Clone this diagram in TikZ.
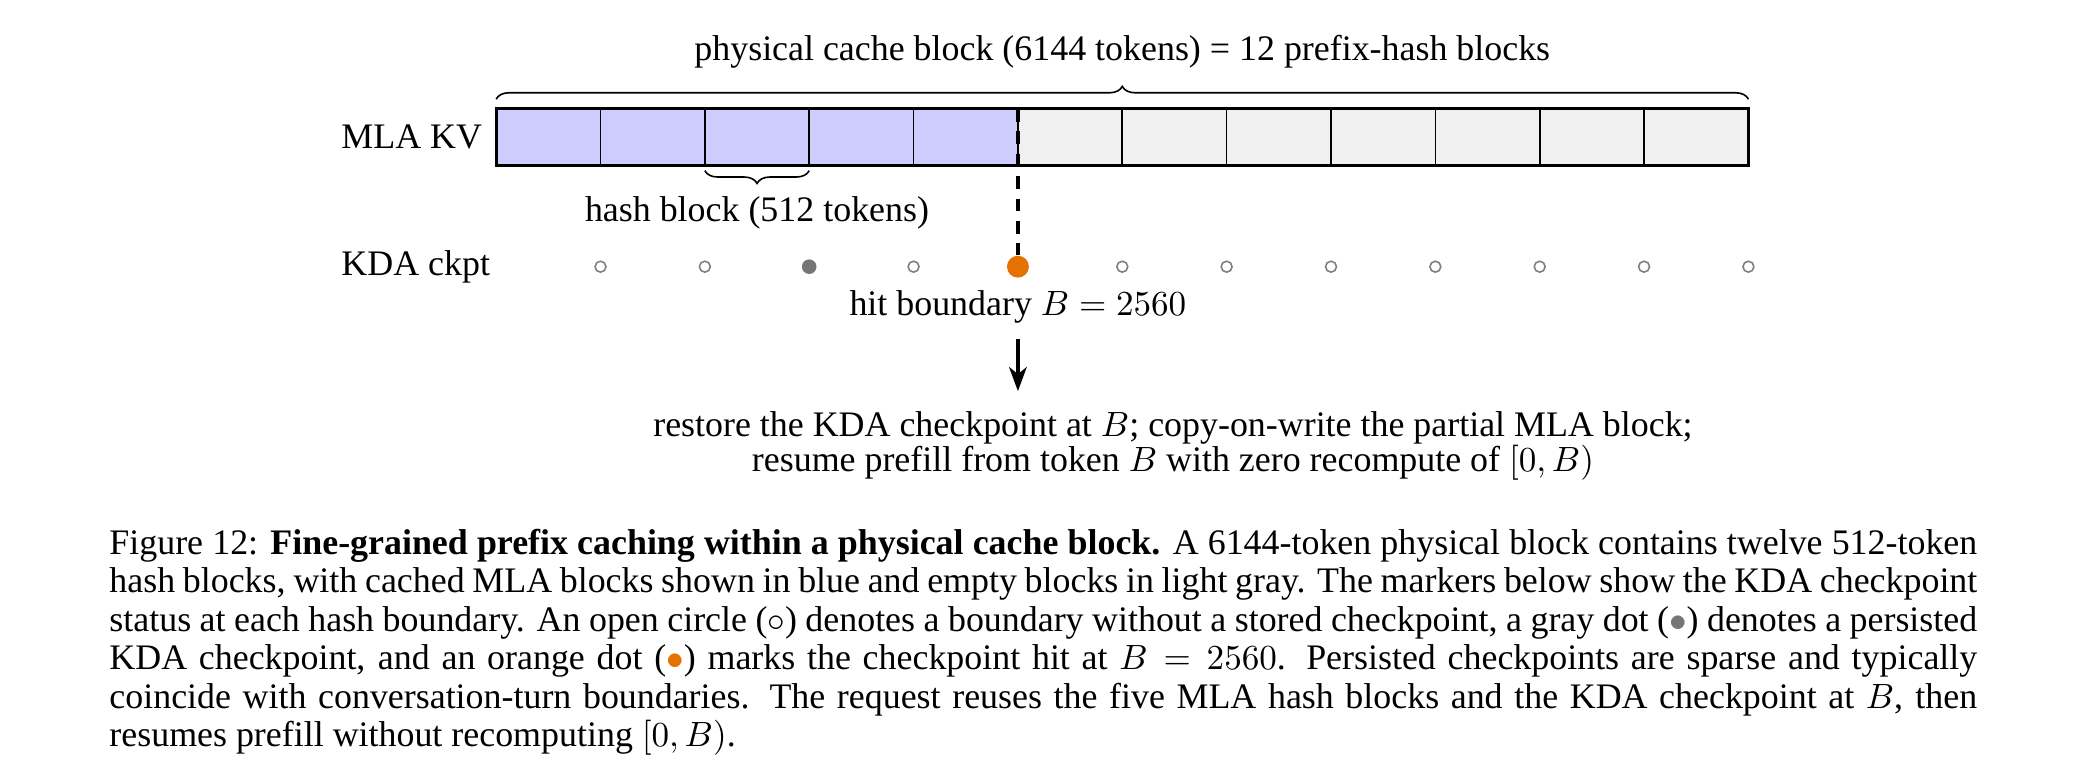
\documentclass[tikz,border=0pt]{standalone}
\usepackage{fontspec}
\setmainfont{Liberation Serif}
\usetikzlibrary{arrows.meta,positioning,decorations.pathreplacing}
\definecolor{mlablue}{RGB}{204,204,255}
\definecolor{emptygray}{RGB}{240,240,240}
\definecolor{hitorange}{RGB}{227,114,0}
\definecolor{ckptgray}{RGB}{118,118,118}

\begin{document}
\begin{tikzpicture}[
  >={Stealth[length=7.5pt, width=5.5pt, inset=2.2pt]}, font=\fontsize{11.2}{12}\selectfont,
  blk/.style={draw, line width=0.5pt, minimum width=11.442mm, minimum height=6.25mm,
              inner sep=0pt, outer sep=0pt},
  cached/.style={blk, fill=mlablue},
  empty/.style={blk, fill=emptygray},
  opendot/.style={circle, draw=gray, line width=0.5pt, inner sep=0pt, minimum size=1.2mm},
  keptdot/.style={circle, fill=ckptgray, inner sep=0pt, minimum size=1.6mm},
  hitdot/.style={circle, fill=hitorange, inner sep=0pt, minimum size=2.4mm},
  brc/.style={decorate, decoration={brace, amplitude=4pt, raise=3pt}, line width=0.5pt}
]
\useasboundingbox (-5.44,1.193) rectangle (17.366,-7.243);

% hash blocks of the physical block
\foreach \i in {1,...,5}
  \node[cached] (h\i) at ({(\i-0.5)*1.1442},-0.3125) {};
\foreach \i in {6,...,12}
  \node[empty] (h\i) at ({(\i-0.5)*1.1442},-0.3125) {};
\draw[line width=0.9pt] (h1.north west) rectangle (h12.south east);

\node[anchor=west] (mla) at (-1.82,-0.3125) {MLA KV};

\draw[brc] (h1.north west) -- (h12.north east)
  node[midway, anchor=base, yshift=15pt] (phys) {physical cache block (6144 tokens) = 12 prefix-hash blocks};
\draw[brc, decoration={mirror, raise=1.5pt}] (h3.south west) -- (h3.south east)
  node[midway, anchor=base, yshift=-17.5pt] (hashlbl) {hash block (512 tokens)};

% checkpoint markers at each hash boundary
\foreach \i/\s in {1/opendot,2/opendot,3/keptdot,4/opendot,5/hitdot,6/opendot,
                   7/opendot,8/opendot,9/opendot,10/opendot,11/opendot,12/opendot}
  \node[\s] (d\i) at ([yshift=-11.06mm]h\i.south east) {};

\node[anchor=west] (kda) at (mla.west |- d1) {KDA ckpt};

\draw[line width=1pt, dash pattern=on 4pt off 3pt] (h5.north east) -- (d5);

\node (hit) at ([yshift=-4.36mm]d5) {hit boundary $B = 2560$};
\node[below=7.2mm of hit, xshift=17mm, align=center, font=\fontsize{11.2}{11.2}\selectfont] (res)
  {restore the KDA checkpoint at $B$; copy-on-write the partial MLA block;\\
   resume prefill from token $B$ with zero recompute of $[0,B)$};
\draw[->, line width=1pt, shorten <=1.6pt, shorten >=2.7pt] (hit.south) -- (hit.south |- res.north);

\node[anchor=north west, text width=20.48cm, align=justify, inner sep=0pt] (cap) at (-4.247,-4.6)
  {Figure 12: \textbf{Fine-grained prefix caching within a physical cache block.} A 6144-token physical block contains twelve 512-token hash blocks, with cached MLA blocks shown in blue and empty blocks in light gray. The markers below show the KDA checkpoint status at each hash boundary. An open circle ($\circ$) denotes a boundary without a stored checkpoint, a gray dot (\textcolor{ckptgray}{$\bullet$}) denotes a persisted KDA checkpoint, and an orange dot (\textcolor{hitorange}{$\bullet$}) marks the checkpoint hit at $B = 2560$. Persisted checkpoints are sparse and typically coincide with conversation-turn boundaries. The request reuses the five MLA hash blocks and the KDA checkpoint at $B$, then resumes prefill without recomputing $[0,B)$.};
\end{tikzpicture}
\end{document}
